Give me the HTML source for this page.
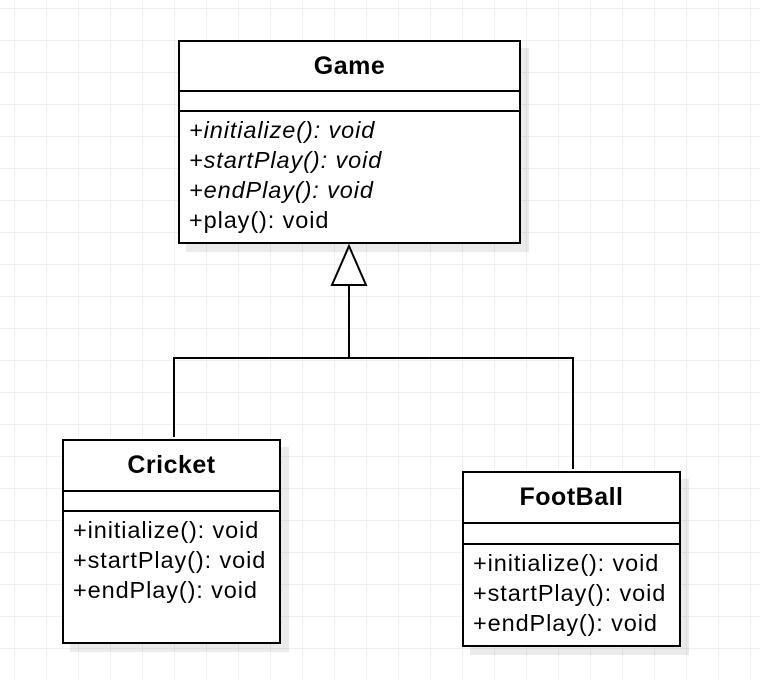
<!DOCTYPE html>
<html><head><style>
body{margin:0;width:760px;height:680px;overflow:hidden;background:#fff;
background-image:linear-gradient(to right,#efefef 1px,transparent 1px),linear-gradient(to bottom,#efefef 1px,transparent 1px);
background-size:32px 32px;background-position:14px 8px;font-family:"Liberation Sans",sans-serif;}
.box{position:absolute;background:#fff;border:2px solid #000;box-shadow:8px 8px 0 rgba(0,0,0,0.08);box-sizing:border-box;}
.hd{font-weight:bold;font-size:25px;text-align:center;border-bottom:2px solid #000;box-sizing:border-box;display:flex;align-items:center;justify-content:center;letter-spacing:0.5px;}
.mid{border-bottom:2px solid #000;box-sizing:border-box;}
.ops{font-size:23.5px;line-height:30px;padding:3px 0 0 9px;white-space:nowrap;letter-spacing:0.9px;}
i{font-style:italic;}
</style></head><body>
<svg width="760" height="680" style="position:absolute;left:0;top:0">
<g stroke="#000" stroke-width="2" fill="none">
<polyline points="349,285 349,358"/>
<polyline points="174,437 174,358 573,358 573,469"/>
<polygon points="349,246 332,285 366,285" fill="#fff"/>
</g></svg>
<div class="box" style="left:178px;top:40px;width:343px;height:204px">
<div class="hd" style="height:50px">Game</div>
<div class="mid" style="height:20px"></div>
<div class="ops"><i>+initialize(): void</i><br><i>+startPlay(): void</i><br><i>+endPlay(): void</i><br>+play(): void</div>
</div>
<div class="box" style="left:62px;top:439px;width:219px;height:205px">
<div class="hd" style="height:51px">Cricket</div>
<div class="mid" style="height:20px"></div>
<div class="ops">+initialize(): void<br>+startPlay(): void<br>+endPlay(): void</div>
</div>
<div class="box" style="left:462px;top:471px;width:219px;height:176px">
<div class="hd" style="height:51px">FootBall</div>
<div class="mid" style="height:21px"></div>
<div class="ops">+initialize(): void<br>+startPlay(): void<br>+endPlay(): void</div>
</div>
</body></html>
